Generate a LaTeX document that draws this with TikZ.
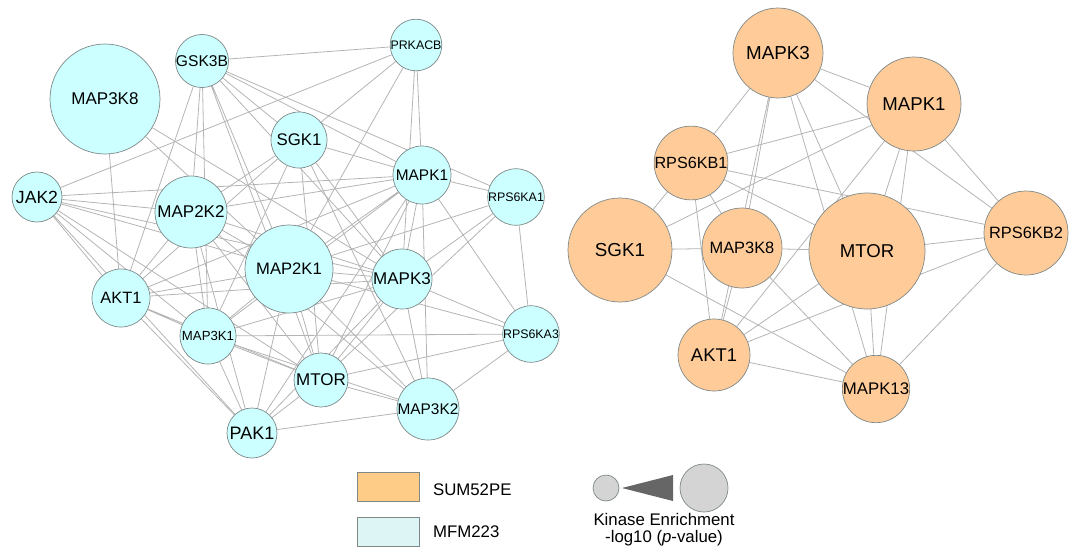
\documentclass[tikz,border=0pt]{standalone}
\usepackage{fontspec}
\setmainfont{Liberation Sans}
\usetikzlibrary{backgrounds}
\definecolor{mfmfill}{HTML}{CCFFFF}
\definecolor{sumfill}{HTML}{FFCC99}
\definecolor{legorange}{HTML}{FFCC88}
\definecolor{legcyan}{HTML}{DDF5F5}
\definecolor{rimgray}{HTML}{7F8888}
\definecolor{linkgray}{HTML}{B4B4B4}
\definecolor{sizegray}{HTML}{D4D4D4}
\definecolor{wedgegray}{HTML}{666666}
\newcommand{\kfont}[1]{\fontsize{#1}{#1}\selectfont}
\tikzset{
    kinase/.style={circle,draw=rimgray,line width=0.35pt,inner sep=0pt,text=black},
    mfm/.style={kinase,fill=mfmfill},
    sum/.style={kinase,fill=sumfill},
    link/.style={draw=linkgray,line width=0.4pt},
    legbox/.style={draw=rimgray,line width=0.4pt,minimum width=31pt,minimum height=14.5pt,inner sep=0pt}
}
\begin{document}
\begin{tikzpicture}[x=0.5pt,y=-0.5pt]
                    \useasboundingbox (0,0) rectangle (1077,552);

                    \node[mfm,minimum size=55pt,font=\kfont{8.5}] (l-map3k8) at (105,99) {MAP3K8};
                    \node[mfm,minimum size=26pt,font=\kfont{7.8}] (l-gsk3b) at (202,61) {GSK3B};
                    \node[mfm,minimum size=25pt,font=\kfont{6.2}] (l-prkacb) at (416,45) {PRKACB};
                    \node[mfm,minimum size=28pt,font=\kfont{8.4}] (l-sgk1) at (299,140) {SGK1};
                    \node[mfm,minimum size=29pt,font=\kfont{7.7}] (l-mapk1) at (422,175) {MAPK1};
                    \node[mfm,minimum size=28pt,font=\kfont{6.2}] (l-rps6ka1) at (516,197) {RPS6KA1};
                    \node[mfm,minimum size=25pt,font=\kfont{8.8}] (l-jak2) at (37,197) {JAK2};
                    \node[mfm,minimum size=36pt,font=\kfont{8.5}] (l-map2k2) at (191,212) {MAP2K2};
                    \node[mfm,minimum size=44pt,font=\kfont{8.3}] (l-map2k1) at (289,269) {MAP2K1};
                    \node[mfm,minimum size=30pt,font=\kfont{8.5}] (l-mapk3) at (402,279) {MAPK3};
                    \node[mfm,minimum size=29pt,font=\kfont{8.2}] (l-akt1) at (121,298) {AKT1};
                    \node[mfm,minimum size=28pt,font=\kfont{6.6}] (l-map3k1) at (208,336) {MAP3K1};
                    \node[mfm,minimum size=27pt,font=\kfont{8.5}] (l-mtor) at (321,380) {MTOR};
                    \node[mfm,minimum size=25pt,font=\kfont{9}] (l-pak1) at (252,433) {PAK1};
                    \node[mfm,minimum size=31pt,font=\kfont{7.7}] (l-map3k2) at (428,409) {MAP3K2};
                    \node[mfm,minimum size=28pt,font=\kfont{6.2}] (l-rps6ka3) at (531,334) {RPS6KA3};

                    \node[sum,minimum size=45pt,font=\kfont{9.4}] (r-mapk3) at (778,53) {MAPK3};
                    \node[sum,minimum size=47pt,font=\kfont{9.3}] (r-mapk1) at (914,104) {MAPK1};
                    \node[sum,minimum size=34pt,font=\kfont{8.1}] (r-rps6kb1) at (691,163) {RPS6KB1};
                    \node[sum,minimum size=52pt,font=\kfont{9.4}] (r-sgk1) at (620,250) {SGK1};
                    \node[sum,minimum size=40pt,font=\kfont{8.2}] (r-map3k8) at (742,248) {MAP3K8};
                    \node[sum,minimum size=58pt,font=\kfont{9.3}] (r-mtor) at (867,251) {MTOR};
                    \node[sum,minimum size=42pt,font=\kfont{8.2}] (r-rps6kb2) at (1026,233) {RPS6KB2};
                    \node[sum,minimum size=36pt,font=\kfont{9.2}] (r-akt1) at (714,355) {AKT1};
                    \node[sum,minimum size=33pt,font=\kfont{8.4}] (r-mapk13) at (876,389) {MAPK13};

                    \begin{scope}[on background layer]
                    \draw[link] (l-gsk3b) -- (l-prkacb) (l-gsk3b) -- (l-sgk1) (l-gsk3b) -- (l-mapk1)
                                (l-gsk3b) -- (l-rps6ka1) (l-gsk3b) -- (l-map2k2) (l-gsk3b) -- (l-akt1)
                                (l-gsk3b) -- (l-map2k1) (l-gsk3b) -- (l-mtor) (l-gsk3b) -- (l-mapk3)
                                (l-gsk3b) -- (l-map3k1);
                    \draw[link] (l-prkacb) -- (l-jak2) (l-prkacb) -- (l-sgk1) (l-prkacb) -- (l-mapk1)
                                (l-prkacb) -- (l-mapk3) (l-prkacb) -- (l-map2k1);
                    \draw[link] (l-sgk1) -- (l-mapk1) (l-sgk1) -- (l-map2k2) (l-sgk1) -- (l-map3k1)
                                (l-sgk1) -- (l-mtor) (l-sgk1) -- (l-mapk3) (l-sgk1) -- (l-map3k2)
                                (l-sgk1) -- (l-akt1);
                    \draw[link] (l-map3k8) -- (l-map2k1) (l-map3k8) -- (l-mapk3) (l-map3k8) -- (l-akt1);
                    \draw[link] (l-jak2) -- (l-mapk1) (l-jak2) -- (l-map2k2) (l-jak2) -- (l-map2k1)
                                (l-jak2) -- (l-mapk3) (l-jak2) -- (l-akt1) (l-jak2) -- (l-map3k1)
                                (l-jak2) -- (l-mtor) (l-jak2) -- (l-pak1);
                    \draw[link] (l-mapk1) -- (l-rps6ka1) (l-mapk1) -- (l-rps6ka3) (l-mapk1) -- (l-map2k2)
                                (l-mapk1) -- (l-map2k1) (l-mapk1) -- (l-mapk3) (l-mapk1) -- (l-mtor)
                                (l-mapk1) -- (l-akt1) (l-mapk1) -- (l-map3k1) (l-mapk1) -- (l-pak1)
                                (l-mapk1) -- (l-map3k2);
                    \draw[link] (l-rps6ka1) -- (l-rps6ka3) (l-rps6ka1) -- (l-mapk3) (l-rps6ka1) -- (l-mtor)
                                (l-rps6ka1) -- (l-map2k1);
                    \draw[link] (l-map2k2) -- (l-map2k1) (l-map2k2) -- (l-mapk3) (l-map2k2) -- (l-akt1)
                                (l-map2k2) -- (l-map3k1) (l-map2k2) -- (l-mtor) (l-map2k2) -- (l-pak1)
                                (l-map2k2) -- (l-map3k2);
                    \draw[link] (l-map2k1) -- (l-mapk3) (l-map2k1) -- (l-akt1) (l-map2k1) -- (l-map3k1)
                                (l-map2k1) -- (l-mtor) (l-map2k1) -- (l-pak1) (l-map2k1) -- (l-map3k2)
                                (l-map2k1) -- (l-rps6ka3);
                    \draw[link] (l-mapk3) -- (l-akt1) (l-mapk3) -- (l-map3k1) (l-mapk3) -- (l-mtor)
                                (l-mapk3) -- (l-pak1) (l-mapk3) -- (l-map3k2) (l-mapk3) -- (l-rps6ka3);
                    \draw[link] (l-akt1) -- (l-map3k1) (l-akt1) -- (l-mtor) (l-akt1) -- (l-pak1);
                    \draw[link] (l-map3k1) -- (l-mtor) (l-map3k1) -- (l-pak1) (l-map3k1) -- (l-rps6ka3)
                                (l-map3k1) -- (l-map3k2);
                    \draw[link] (l-mtor) -- (l-pak1) (l-mtor) -- (l-map3k2) (l-mtor) -- (l-rps6ka3)
                                (l-pak1) -- (l-map3k2) (l-map3k2) -- (l-rps6ka3);

                    \draw[link] (r-mapk3) -- (r-rps6kb1) (r-mapk3) -- (r-map3k8) (r-mapk3) -- (r-mtor)
                                (r-mapk3) -- (r-mapk13) (r-mapk3) -- (r-mapk1) (r-mapk3) -- (r-rps6kb2)
                                (r-mapk3) -- (r-akt1);
                    \draw[link] (r-mapk1) -- (r-rps6kb1) (r-mapk1) -- (r-sgk1) (r-mapk1) -- (r-akt1)
                                (r-mapk1) -- (r-mtor) (r-mapk1) -- (r-mapk13) (r-mapk1) -- (r-rps6kb2);
                    \draw[link] (r-rps6kb1) -- (r-rps6kb2) (r-rps6kb1) -- (r-sgk1) (r-rps6kb1) -- (r-akt1)
                                (r-rps6kb1) -- (r-map3k8) (r-rps6kb1) -- (r-mtor);
                    \draw[link] (r-sgk1) -- (r-map3k8) (r-sgk1) -- (r-mapk13)
                                (r-map3k8) -- (r-mtor) (r-map3k8) -- (r-akt1) (r-map3k8) -- (r-mapk13);
                    \draw[link] (r-mtor) -- (r-rps6kb2) (r-mtor) -- (r-mapk13) (r-mtor) -- (r-akt1)
                                (r-akt1) -- (r-rps6kb2) (r-akt1) -- (r-mapk13) (r-rps6kb2) -- (r-mapk13);
                    \end{scope}

                    \node[legbox,fill=legorange] (sum-box) at (388,487) {};
                    \node[legbox,fill=legcyan] (mfm-box) at (388,532) {};
                    \node[anchor=west,font=\kfont{8.4}] (sum-label) at (426,490) {SUM52PE};
                    \node[anchor=west,font=\kfont{8.4}] (mfm-label) at (426,532) {MFM223};

                    \node[kinase,fill=sizegray,minimum size=13pt] (small-dot) at (606,488) {};
                    \node[kinase,fill=sizegray,minimum size=24pt] (big-dot) at (704,488) {};
                    \fill[wedgegray] (622,488) -- (673,475) -- (673,501) -- cycle;
                    \node[align=center,font=\kfont{8.4}] (size-label) at (664,530)
                         {Kinase Enrichment\\-log10 (\textit{p}-value)};
                \end{tikzpicture}
\end{document}
